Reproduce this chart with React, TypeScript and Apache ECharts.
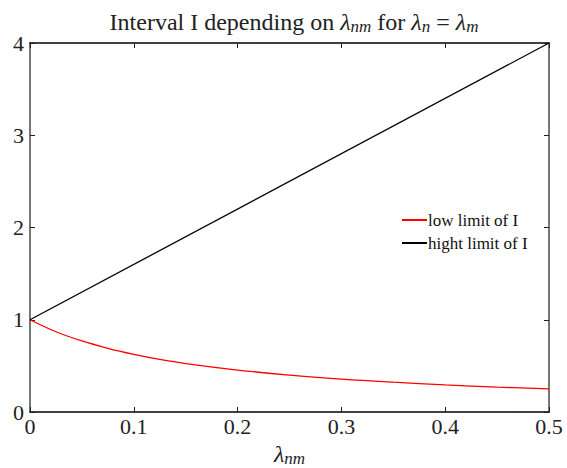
import React, { useEffect, useRef } from "react";
import * as echarts from "echarts";

const lambdaNm = [0, 0.025, 0.05, 0.075, 0.1, 0.125, 0.15, 0.2, 0.25, 0.3, 0.35, 0.4, 0.45, 0.5];
const lowLimit = [1, 0.87, 0.77, 0.69, 0.625, 0.57, 0.525, 0.455, 0.4, 0.357, 0.323, 0.294, 0.27, 0.25];
const highX = [0, 0.5];
const highLimit = [1, 4];
const xTicks = [0, 0.1, 0.2, 0.3, 0.4, 0.5];
const yTicks = [0, 1, 2, 3, 4];
const seriesNames = ["low limit of I", "hight limit of I"];

const FONT = "Liberation Serif";

export default function App() {
  const ref = useRef<HTMLDivElement>(null);
  useEffect(() => {
    if (!ref.current) return;
    const chart = echarts.init(ref.current, null, { renderer: "svg" });
    const grayLine = { show: true, onZero: false, lineStyle: { color: "#555", width: 1.6 } };
    const blackLine = { show: true, onZero: false, lineStyle: { color: "#000", width: 1.6 } };
    const tick = { show: true, inside: true, length: 5, lineStyle: { color: "#222", width: 1 } };
    const mkRich = (big: number, small: number, pad: number) => ({
      n: { fontFamily: FONT, fontSize: big, fontWeight: "normal", color: "#222" },
      l: { fontFamily: FONT, fontSize: big, fontWeight: "normal", fontStyle: "italic", color: "#222" },
      s: { fontFamily: FONT, fontSize: small, fontWeight: "normal", fontStyle: "italic", color: "#222", padding: [pad, 0, 0, 0] },
    });
    chart.setOption({
      animation: false,
      title: {
        text: "{n|Interval I depending on }{l|λ}{s|nm}{n| for }{l|λ}{s|n}{n| = }{l|λ}{s|m}",
        left: 289,
        textAlign: "center",
        top: 3,
        textStyle: { fontWeight: "normal", rich: mkRich(24, 17, 10) },
      },
      grid: { left: 30, right: 18, top: 43, bottom: 56, containLabel: false, outerBoundsMode: "none" },
      legend: {
        left: 397,
        top: 206,
        orient: "vertical",
        itemWidth: 25,
        itemHeight: 2,
        itemGap: 5,
        icon: "rect",
        textStyle: { fontFamily: FONT, fontSize: 17, lineHeight: 18, color: "#111", padding: [0, 0, 0, -4] },
        data: seriesNames,
      },
      xAxis: [
        {
          type: "value",
          min: 0,
          max: 0.5,
          interval: 0.1,
          axisLine: blackLine,
          axisTick: tick,
          splitLine: { show: false },
          axisLabel: {
            fontFamily: FONT,
            fontSize: 22,
            color: "#222",
            margin: 3,
            formatter: (v: number) => (xTicks.includes(+v.toFixed(1)) ? String(+v.toFixed(1)) : ""),
          },
          name: "{l|λ}{s|nm}",
          nameLocation: "middle",
          nameGap: 28,
          nameTextStyle: { rich: mkRich(24, 17, 10) },
        },
        {
          type: "value",
          position: "top",
          min: 0,
          max: 0.5,
          interval: 0.1,
          axisLine: blackLine,
          axisTick: tick,
          axisLabel: { show: false },
          splitLine: { show: false },
        },
      ],
      yAxis: [
        {
          type: "value",
          min: 0,
          max: 4,
          interval: 1,
          axisLine: grayLine,
          axisTick: tick,
          splitLine: { show: false },
          axisLabel: {
            fontFamily: FONT,
            fontSize: 22,
            color: "#222",
            margin: 6,
            formatter: (v: number) => (yTicks.includes(v) ? String(v) : ""),
          },
        },
        {
          type: "value",
          position: "right",
          min: 0,
          max: 4,
          interval: 1,
          axisLine: grayLine,
          axisTick: tick,
          axisLabel: { show: false },
          splitLine: { show: false },
        },
      ],
      series: [
        {
          name: seriesNames[0],
          type: "line",
          data: lambdaNm.map((x, i) => [x, lowLimit[i]]),
          smooth: 0.4,
          showSymbol: false,
          lineStyle: { color: "#ff0000", width: 1.3 },
          itemStyle: { color: "#ff0000" },
        },
        {
          name: seriesNames[1],
          type: "line",
          data: highX.map((x, i) => [x, highLimit[i]]),
          showSymbol: false,
          lineStyle: { color: "#000000", width: 1.3 },
          itemStyle: { color: "#000000" },
        },
      ],
    });
    return () => chart.dispose();
  }, []);
  return <div ref={ref} style={{ position: "absolute", left: 0, top: 0, width: 567, height: 468 }} />;
}
